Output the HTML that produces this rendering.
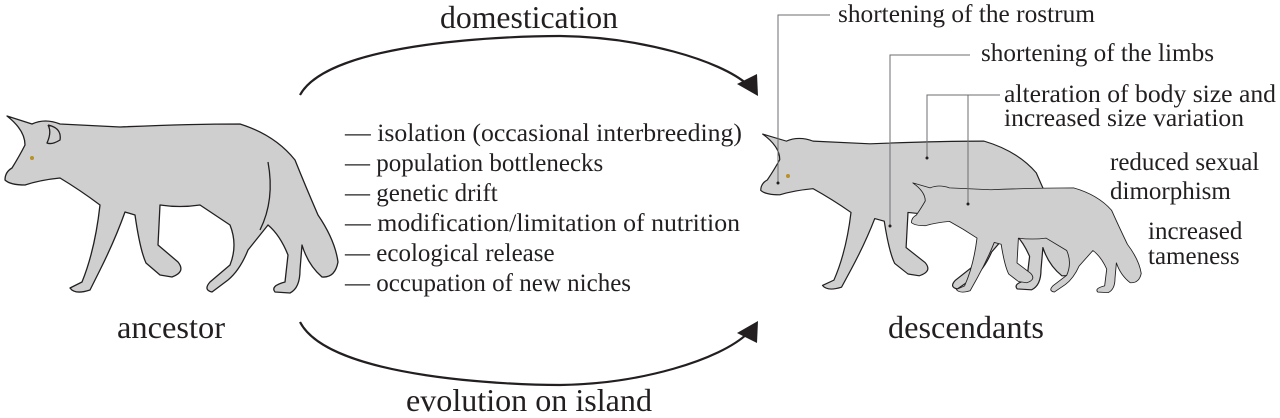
<!DOCTYPE html>
<html><head><meta charset="utf-8"><style>
html,body{margin:0;padding:0;background:#fff;}
svg{display:block;}
text{font-family:"Liberation Serif",serif;fill:#231f20;}
</style></head><body>
<svg width="1280" height="418" viewBox="0 0 1280 418" xmlns="http://www.w3.org/2000/svg">
<defs>
<path id="fox" d="M7,116 L32,124 Q45,118 60,124 L120,127 Q190,124 240,124 Q275,135 295,160 Q305,185 318,215 Q335,240 338,262 Q335,278 322,277 Q308,265 302,245 L300,270 Q300,288 290,293 L275,292 Q270,286 285,282 L288,255 Q280,235 268,225 L248,250 Q240,270 228,280 L212,292 Q203,290 210,282 L230,265 Q238,245 230,225 L200,205 Q180,208 160,205 L158,245 L178,262 Q186,272 172,277 L160,275 L146,263 Q140,250 135,215 L125,212 Q115,240 100,270 L90,290 Q75,295 70,288 L82,282 Q95,250 100,205 Q80,190 60,178 Q40,180 25,185 Q10,185 5,180 Q5,172 12,168 Q20,155 25,145 Q25,130 7,116 Z"/>
</defs>
<g fill="#cfcfd0" stroke="#231f20" stroke-width="1.3" stroke-linejoin="round">
<use href="#fox"/>
<path d="M48,125 Q62,128 60,140 Q52,145 47,143 Q52,132 48,125" fill="none"/>
<path d="M268,162 Q275,200 260,230" fill="none"/>
<use href="#fox" transform="translate(756,32) scale(0.95,0.88)"/>
<use href="#fox" transform="translate(908,111) scale(0.69,0.62)"/>
</g>
<circle cx="32" cy="158" r="2" fill="#b8912a"/>
<circle cx="788" cy="176" r="2" fill="#b8912a"/>
<g fill="none" stroke="#231f20" stroke-width="2.2">
<path d="M300,95 C330,40 520,36 560,36 C640,37 720,60 748,85"/>
<path d="M300,322 C330,380 520,385 560,385 C640,384 720,360 748,333"/>
</g>
<polygon points="758,96 737,84 757,74" fill="#231f20"/>
<polygon points="758,321 737,333 757,343" fill="#231f20"/>
<g fill="none" stroke="#6d6e70" stroke-width="1">
<path d="M830,15 H778 V183"/>
<path d="M970,55 H890 V226"/>
<path d="M1000,95 H927 V158"/>
<path d="M968,95 V204"/>
</g>
<g fill="#231f20"><circle cx="778" cy="183" r="1.5"/><circle cx="890" cy="226" r="1.5"/><circle cx="927" cy="158" r="1.5"/><circle cx="968" cy="204" r="1.5"/></g>
<g font-size="32">
<text x="300" y="28" textLength="318" lengthAdjust="spacingAndGlyphs" style="display:none">x</text>
<text x="440" y="28" textLength="178" lengthAdjust="spacingAndGlyphs">domestication</text>
<text x="117" y="338" textLength="108" lengthAdjust="spacingAndGlyphs">ancestor</text>
<text x="888" y="338" textLength="156" lengthAdjust="spacingAndGlyphs">descendants</text>
<text x="406" y="411" textLength="246" lengthAdjust="spacingAndGlyphs">evolution on island</text>
</g>
<g font-size="25">
<text x="345" y="141" textLength="397" lengthAdjust="spacingAndGlyphs">— isolation (occasional interbreeding)</text>
<text x="345" y="171">— population bottlenecks</text>
<text x="345" y="201">— genetic drift</text>
<text x="345" y="231" textLength="395" lengthAdjust="spacingAndGlyphs">— modification/limitation of nutrition</text>
<text x="345" y="261">— ecological release</text>
<text x="345" y="291">— occupation of new niches</text>
<text x="838" y="22" textLength="257" lengthAdjust="spacingAndGlyphs">shortening of the rostrum</text>
<text x="981" y="61" textLength="233" lengthAdjust="spacingAndGlyphs">shortening of the limbs</text>
<text x="1004" y="102" textLength="272" lengthAdjust="spacingAndGlyphs">alteration of body size and</text>
<text x="1004" y="126" textLength="240" lengthAdjust="spacingAndGlyphs">increased size variation</text>
<text x="1110" y="170">reduced sexual</text>
<text x="1110" y="199">dimorphism</text>
<text x="1148" y="239">increased</text>
<text x="1148" y="264">tameness</text>
</g>
</svg>
</body></html>
